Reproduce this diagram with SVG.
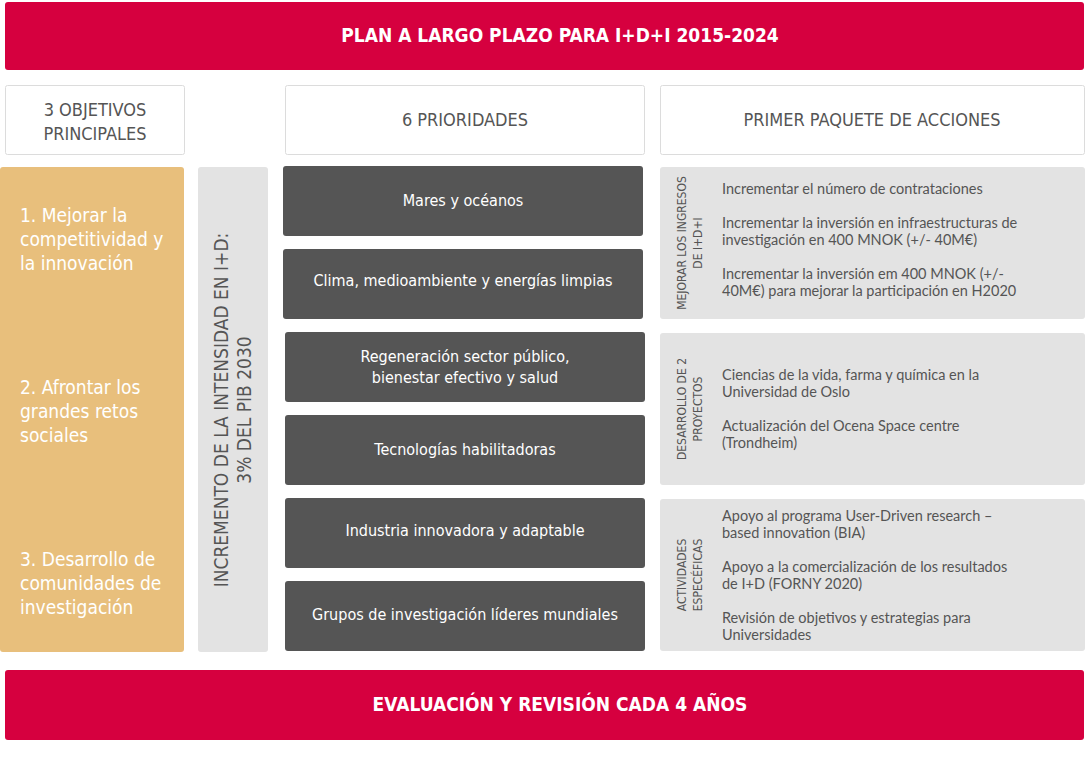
<svg xmlns="http://www.w3.org/2000/svg" width="1086" height="775" viewBox="0 0 1086 775">
<style>
.c{font-family:"DejaVu Sans Condensed","DejaVu Sans",sans-serif;font-stretch:condensed}
.ban{fill:#d6003f}
.bt{fill:#fff;font-size:19px;font-weight:bold;text-anchor:middle}
.hd{fill:#fff;stroke:#dcdcdc}
.ht{fill:#555;font-size:18px;text-anchor:middle}
.dk{fill:#555}
.dt{fill:#fff;font-size:16px;text-anchor:middle}
.gr{fill:#e3e3e3}
.vt{fill:#555;font-size:12px;text-anchor:middle}
.bd{font-family:Lato,"Liberation Sans",sans-serif;fill:#555;font-size:14.5px}
.lt{fill:#fff;font-size:19px}
</style>
<rect class="ban" x="5" y="2" width="1079" height="68" rx="3"/>
<text class="c bt" x="560" y="42">PLAN A LARGO PLAZO PARA I+D+I 2015-2024</text>
<g id="h1"><rect class="hd" x="5.5" y="85.5" width="179" height="69" rx="2"/><text class="c ht" x="95" y="116">3 OBJETIVOS</text><text class="c ht" x="95" y="140">PRINCIPALES</text></g>
<g id="h2"><rect class="hd" x="285.5" y="85.5" width="359" height="69" rx="2"/><text class="c ht" x="465" y="126">6 PRIORIDADES</text></g>
<g id="h3"><rect class="hd" x="660.5" y="85.5" width="424" height="69" rx="2"/><text class="c ht" x="872" y="126">PRIMER PAQUETE DE ACCIONES</text></g>
<g id="objetivos"><rect x="0" y="167" width="184" height="485" rx="3" fill="#e8bf7c"/>
<text class="c lt" x="20" y="222">1. Mejorar la</text><text class="c lt" x="20" y="246">competitividad y</text><text class="c lt" x="20" y="270">la innovación</text>
<text class="c lt" x="20" y="394">2. Afrontar los</text><text class="c lt" x="20" y="418">grandes retos</text><text class="c lt" x="20" y="442">sociales</text>
<text class="c lt" x="20" y="566">3. Desarrollo de</text><text class="c lt" x="20" y="590">comunidades de</text><text class="c lt" x="20" y="614">investigación</text></g>
<g id="intensidad"><rect class="gr" x="198" y="167" width="70" height="485" rx="3"/>
<text class="c" fill="#555" font-size="19" text-anchor="middle" transform="translate(228,410) rotate(-90)">INCREMENTO DE LA INTENSIDAD EN I+D:</text>
<text class="c" fill="#555" font-size="19" text-anchor="middle" transform="translate(251,410) rotate(-90)">3% DEL PIB 2030</text></g>
<g id="p1"><rect class="dk" x="283" y="166" width="360" height="70" rx="3"/><text class="c dt" x="463" y="206">Mares y océanos</text></g>
<g id="p2"><rect class="dk" x="283" y="249" width="360" height="70" rx="3"/><text class="c dt" x="463" y="286">Clima, medioambiente y energías limpias</text></g>
<g id="p3"><rect class="dk" x="285" y="332" width="360" height="70" rx="3"/><text class="c dt" x="465" y="362">Regeneración sector público,</text><text class="c dt" x="465" y="383">bienestar efectivo y salud</text></g>
<g id="p4"><rect class="dk" x="285" y="415" width="360" height="70" rx="3"/><text class="c dt" x="465" y="455">Tecnologías habilitadoras</text></g>
<g id="p5"><rect class="dk" x="285" y="498" width="360" height="70" rx="3"/><text class="c dt" x="465" y="536">Industria innovadora y adaptable</text></g>
<g id="p6"><rect class="dk" x="285" y="581" width="360" height="70" rx="3"/><text class="c dt" x="465" y="620">Grupos de investigación líderes mundiales</text></g>
<g id="a1"><rect class="gr" x="660" y="167" width="425" height="152" rx="3"/>
<text class="c vt" transform="translate(686,243) rotate(-90)">MEJORAR LOS INGRESOS</text><text class="c vt" transform="translate(702,243) rotate(-90)">DE I+D+I</text>
<text class="bd" x="722" y="194">Incrementar el número de contrataciones</text>
<text class="bd" x="722" y="228">Incrementar la inversión en infraestructuras de</text><text class="bd" x="722" y="245">investigación  en 400 MNOK (+/- 40M€)</text>
<text class="bd" x="722" y="279">Incrementar la inversión em 400 MNOK (+/-</text><text class="bd" x="722" y="296">40M€) para mejorar la participación en H2020</text></g>
<g id="a2"><rect class="gr" x="660" y="333" width="425" height="152" rx="3"/>
<text class="c vt" transform="translate(686,409) rotate(-90)">DESARROLLO DE 2</text><text class="c vt" transform="translate(702,409) rotate(-90)">PROYECTOS</text>
<text class="bd" x="722" y="380">Ciencias de la vida, farma y química en la</text><text class="bd" x="722" y="397">Universidad de Oslo</text>
<text class="bd" x="722" y="431">Actualización del Ocena Space centre</text><text class="bd" x="722" y="448">(Trondheim)</text></g>
<g id="a3"><rect class="gr" x="660" y="499" width="425" height="152" rx="3"/>
<text class="c vt" transform="translate(686,575) rotate(-90)">ACTIVIDADES</text><text class="c vt" transform="translate(702,575) rotate(-90)">ESPECÉFICAS</text>
<text class="bd" x="722" y="521">Apoyo al programa User-Driven research –</text><text class="bd" x="722" y="538">based innovation (BIA)</text>
<text class="bd" x="722" y="572">Apoyo a la comercialización de los resultados</text><text class="bd" x="722" y="589">de I+D (FORNY 2020)</text>
<text class="bd" x="722" y="623">Revisión de objetivos y estrategias para</text><text class="bd" x="722" y="640">Universidades</text></g>
<g id="connectors"/>
<rect class="ban" x="5" y="670" width="1079" height="70" rx="3"/>
<text class="c bt" x="560" y="711">EVALUACIÓN Y REVISIÓN CADA 4 AÑOS</text>
</svg>
